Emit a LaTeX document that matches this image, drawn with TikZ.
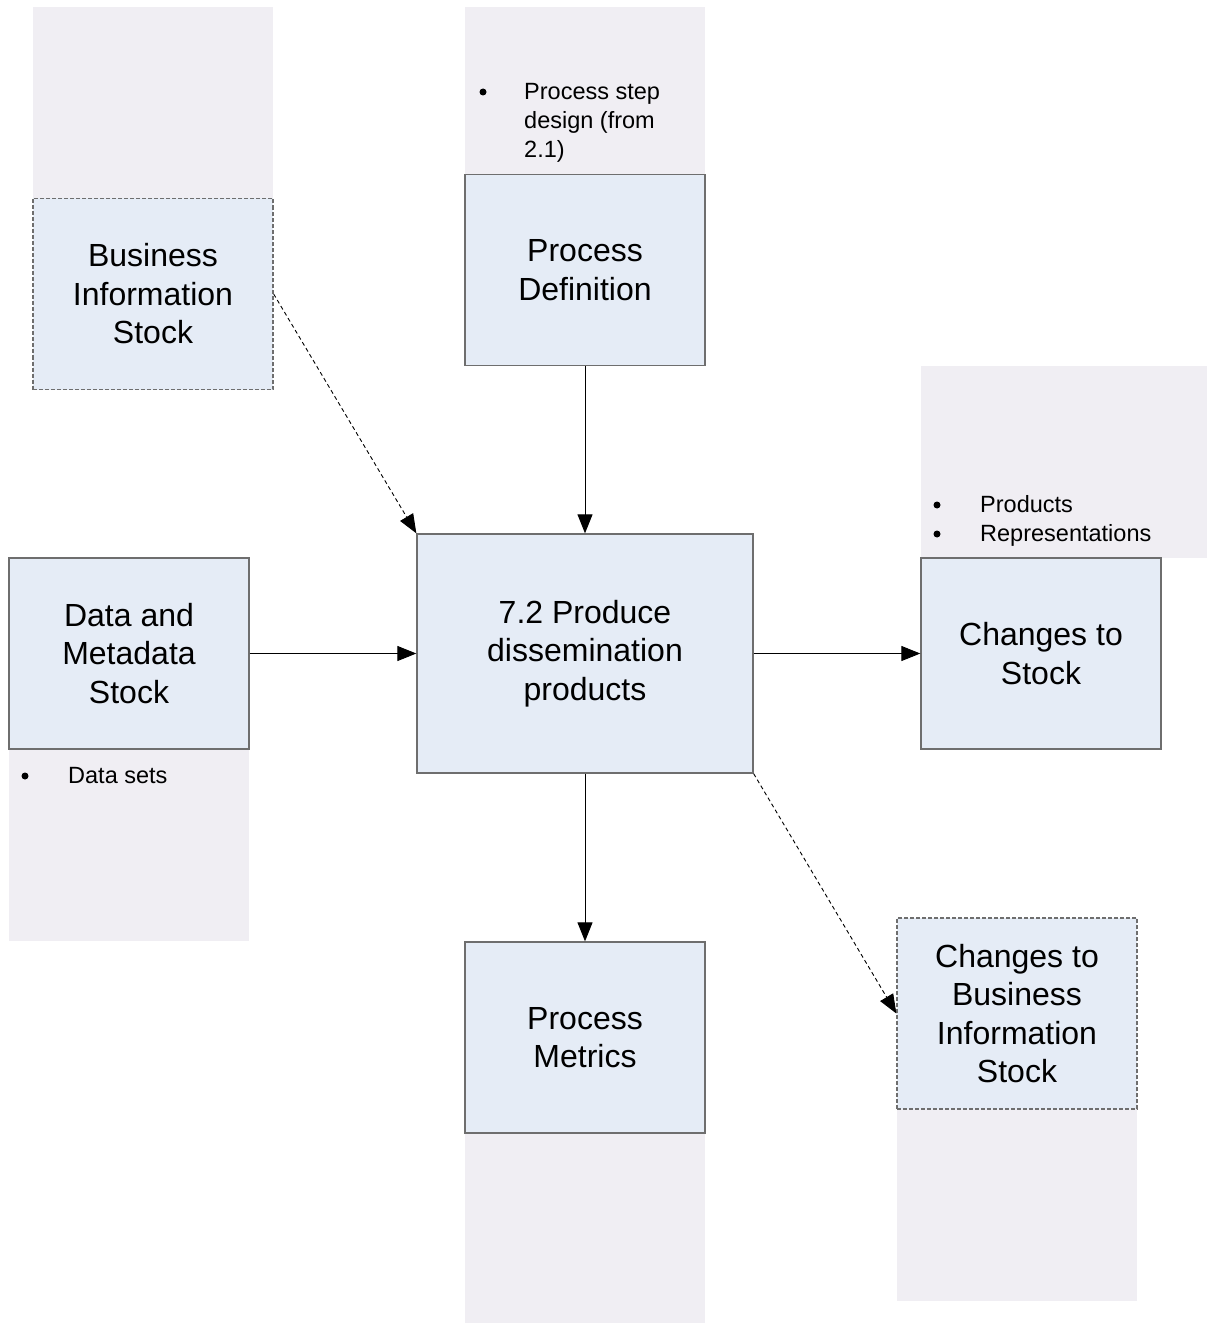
\documentclass[tikz,border=0pt]{standalone}
\usepackage{fontspec}
\setmainfont{Liberation Sans}
\usetikzlibrary{arrows.meta}
\definecolor{panelgrey}{HTML}{F0EEF3}
\definecolor{boxblue}{HTML}{E5ECF6}
\definecolor{edgegrey}{HTML}{6E6E6E}
\begin{document}
\begin{tikzpicture}[x=1pt,y=-1pt,
  panel/.style={fill=panelgrey, draw=none},
  procbox/.style={rectangle, fill=boxblue, draw=edgegrey, line width=1.3pt, minimum width=240pt, minimum height=191pt, inner sep=0pt, font=\fontsize{32}{38.5}\selectfont, align=center},
  stockbox/.style={procbox, dash pattern=on 4pt off 2pt},
  smalltxt/.style={font=\fontsize{23.5}{29}\selectfont, anchor=base west, inner sep=0pt},
  bul/.style={circle, fill=black, draw=none, inner sep=0pt, minimum size=7pt},
  flow/.style={-{Triangle[length=19pt,width=15pt]}, line width=0.9pt, draw=black},
  dflow/.style={flow, dash pattern=on 4pt off 3pt}]
\useasboundingbox (0,0) rectangle (1207,1324);
\fill[white] (0,0) rectangle (1207,1324);

% background panels
\fill[panel] (33,7) rectangle (273,390);
\fill[panel] (465,7) rectangle (705,366);
\fill[panel] (921,366) rectangle (1207,558);
\fill[panel] (9,749) rectangle (249,941);
\fill[panel] (465,1133) rectangle (705,1323);
\fill[panel] (897,1109) rectangle (1137,1301);

% boxes
\node[stockbox] (bis) at (153,294) {Business\\Information\\Stock};
\node[procbox] (pd) at (585,270) {Process\\Definition};
\node[procbox] (cts) at (1041,653.5) {Changes to\\Stock};
\node[procbox] (dms) at (129,653.5) {Data and\\Metadata\\Stock};
\node[procbox, minimum width=336pt, minimum height=239pt] (main) at (585,653.5) {\raisebox{-2pt}{\parbox{330pt}{\centering 7.2 Produce\\dissemination\\products}}};
\node[procbox] (pm) at (585,1037.5) {Process\\Metrics};
\node[stockbox] (cbis) at (1017,1013.5) {Changes to\\Business\\Information\\Stock};

% bullet texts
\node[bul] (b1) at (483,92) {};
\node[smalltxt] (t1a) at (524,99.5) {Process step};
\node[smalltxt] (t1b) at (524,128.5) {design (from};
\node[smalltxt] (t1c) at (524,157.5) {2.1)};

\node[bul] (b2) at (937,505) {};
\node[smalltxt] (t2) at (980,512) {Products};
\node[bul] (b3) at (937,534) {};
\node[smalltxt] (t3) at (980,541) {Representations};

\node[bul] (b4) at (25,776) {};
\node[smalltxt] (t4) at (68,783.5) {Data sets};

% connectors
\draw[dflow] (bis.east) -- (main.north west);
\draw[flow] (pd.south) -- (main.north);
\draw[flow] (dms.east) -- (main.west);
\draw[flow] (main.east) -- (cts.west);
\draw[flow] (main.south) -- (pm.north);
\draw[dflow] (main.south east) -- (cbis.west);
\end{tikzpicture}
\end{document}
